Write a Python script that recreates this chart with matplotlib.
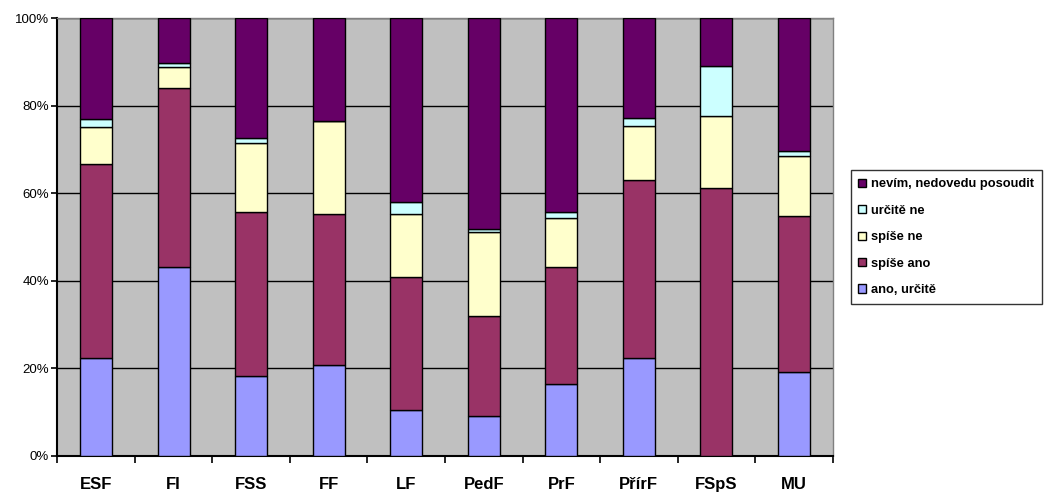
import matplotlib
matplotlib.use("Agg")
import matplotlib.pyplot as plt
import numpy as np

categories = ["ESF", "FI", "FSS", "FF", "LF", "PedF", "PrF", "PřírF", "FSpS", "MU"]
ano_urcite = [22.3, 43.3, 18.2, 20.9, 10.4, 9.1, 16.4, 22.3, 0.0, 19.1]
spise_ano = [44.4, 40.7, 37.5, 34.4, 30.6, 22.8, 26.9, 40.7, 61.3, 35.7]
spise_ne = [8.5, 5.0, 15.9, 21.3, 14.2, 19.2, 11.1, 12.4, 16.4, 13.7]
urcite_ne = [1.9, 0.9, 1.0, 0.0, 2.8, 0.8, 1.3, 1.8, 11.4, 1.3]
nevim = [22.9, 10.1, 27.4, 23.4, 42.0, 48.1, 44.3, 22.8, 10.9, 30.2]

series_names = ["ano, určitě", "spíše ano", "spíše ne", "určitě ne", "nevím, nedovedu posoudit"]
series_vals = [ano_urcite, spise_ano, spise_ne, urcite_ne, nevim]
colors = ["#9999FF", "#993366", "#FFFFCC", "#CCFFFF", "#660066"]
y_ticks = [0, 20, 40, 60, 80, 100]
y_labels = ["0%", "20%", "40%", "60%", "80%", "100%"]

plt.rcParams['font.family'] = ['Liberation Sans', 'DejaVu Sans']

fig = plt.figure(figsize=(10.54, 4.97), dpi=100)
ax = fig.add_axes([0.0544, 0.0825, 0.7356, 0.8805])
ax.set_facecolor("#C0C0C0")

x = np.arange(len(categories))
bottom = np.zeros(len(categories))
handles = []
for name, vals, c in zip(series_names, series_vals, colors):
    v = np.array(vals)
    h = ax.bar(x, v, 0.41, bottom=bottom, color=c, edgecolor="black", linewidth=1.0,
               label=name, zorder=3)
    handles.append(h)
    bottom = bottom + v

ax.set_xlim(-0.5, len(categories) - 0.5)
ax.set_ylim(0, 100)
ax.set_yticks(y_ticks)
ax.set_yticklabels(y_labels, fontsize=9.5)
ax.yaxis.grid(True, color="black", linewidth=1.0, zorder=1)
ax.set_axisbelow(True)

ax.set_xticks(x)
ax.set_xticklabels(categories, fontsize=12, fontweight="bold")
ax.set_xticks(np.arange(-0.5, len(categories)), minor=True)
ax.tick_params(axis="x", which="major", length=0, pad=15)
ax.tick_params(axis="x", which="minor", length=5, width=1.2, direction="out", color="black")
ax.tick_params(axis="y", which="major", length=4, width=1.2, direction="out", pad=2)

for s in ["left", "bottom"]:
    ax.spines[s].set_color("black")
    ax.spines[s].set_linewidth(1.5)
for s in ["top", "right"]:
    ax.spines[s].set_color("#808080")
    ax.spines[s].set_linewidth(1.0)

leg = fig.legend(handles[::-1], series_names[::-1], loc="upper left",
                 bbox_to_anchor=(0.807, 0.657), fontsize=9.3, frameon=True,
                 fancybox=False, edgecolor="black", handlelength=0.6, handleheight=0.6,
                 handletextpad=0.4, labelspacing=1.12, borderpad=0.6, borderaxespad=0)
leg.get_frame().set_linewidth(1.0)
for t in leg.get_texts():
    t.set_fontweight("bold")

fig.savefig("out.png", dpi=100)
